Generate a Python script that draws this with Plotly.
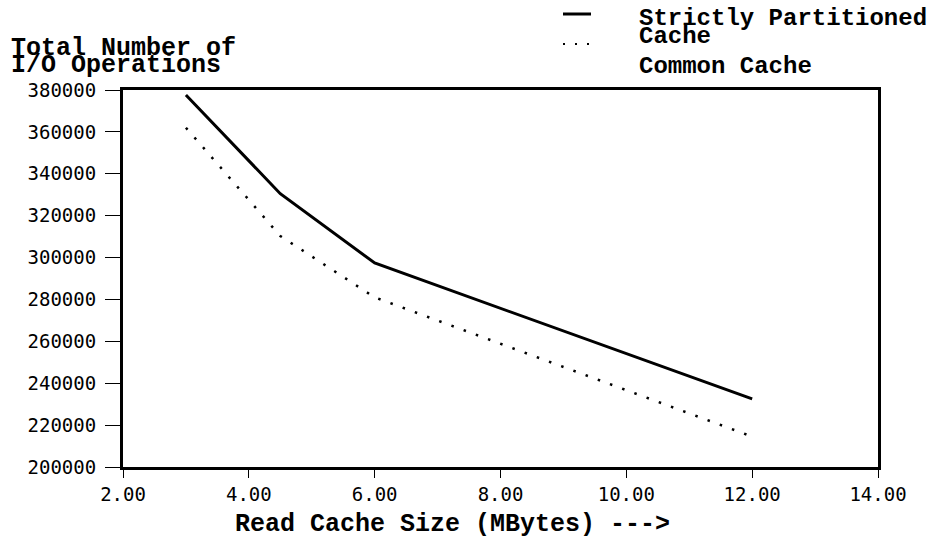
import plotly.graph_objects as go

# Read cache size (MBytes) and total I/O operations for each cache policy
cache_size_partitioned = [3.0, 4.5, 6.0, 12.0]
io_partitioned = [377600, 330500, 297400, 232500]

cache_size_common = [3.0, 4.5, 6.0, 12.0]
io_common = [362000, 310300, 281000, 214500]

x_ticks = [2, 4, 6, 8, 10, 12, 14]
y_ticks = [200000, 220000, 240000, 260000, 280000, 300000, 320000, 340000, 360000, 380000]

legend_labels = ["Strictly Partitioned", "Cache", "Common Cache"]
y_title_lines = ["Total Number of", "I/O Operations"]
x_title = "Read Cache Size (MBytes) --->"

BOLD_MONO = "Courier New, Liberation Mono, monospace"
TICK_FONT = "DejaVu Sans Mono"
tick_font = dict(family=TICK_FONT, size=19, color="black")

fig = go.Figure()

fig.add_trace(go.Scatter(
    x=cache_size_partitioned, y=io_partitioned, mode="lines",
    line=dict(color="black", width=3), showlegend=False,
))
fig.add_trace(go.Scatter(
    x=cache_size_common, y=io_common, mode="lines",
    line=dict(color="black", width=2.5, dash="2.5px,10.5px"), showlegend=False,
))

axis_common = dict(
    showline=True, linecolor="black", linewidth=3, mirror=True,
    showgrid=False, zeroline=False,
    ticks="outside", tickcolor="black", tickwidth=1.3,
)

fig.update_xaxes(
    range=[2, 14], tickvals=x_ticks, tickformat=".2f",
    ticklen=8, ticklabelstandoff=0, tickfont=tick_font, **axis_common,
)
fig.update_yaxes(
    range=[200000, 380000], tickvals=y_ticks, tickformat="d",
    ticklen=15, ticklabelstandoff=5, tickfont=tick_font, **axis_common,
)

W, H = 943, 540
ML, MR, MT, MB = 123, 65, 90, 73
pw, ph = W - ML - MR, H - MT - MB


def px_to_paper(x, y):
    return (x - ML) / pw, 1 - (y - MT) / ph


annotations = [
    dict(text=y_title_lines[0], x=10, y=49, size=25, yanchor="middle"),
    dict(text=y_title_lines[1], x=10, y=66, size=25, yanchor="middle"),
    dict(text=x_title, x=234, y=540, size=25, yanchor="bottom"),
    dict(text=legend_labels[0], x=638, y=18, size=24, yanchor="middle"),
    dict(text=legend_labels[1], x=638, y=36, size=24, yanchor="middle"),
    dict(text=legend_labels[2], x=638, y=67, size=24, yanchor="middle"),
]

ann_objs = []
for a in annotations:
    px, py = px_to_paper(a["x"], a["y"])
    ann_objs.append(dict(
        text=a["text"], x=px, y=py, xref="paper", yref="paper",
        xanchor="left", yanchor=a["yanchor"], showarrow=False, borderpad=0,
        font=dict(family=BOLD_MONO, size=a["size"], color="black", weight="bold"),
    ))

# Legend line samples
x0, y0 = px_to_paper(563, 14)
x1, _ = px_to_paper(591, 14)
dx0, dy0 = px_to_paper(563, 44)
dx1, _ = px_to_paper(592, 44)
shapes = [
    dict(type="line", xref="paper", yref="paper", x0=x0, x1=x1, y0=y0, y1=y0,
         line=dict(color="black", width=3)),
    dict(type="line", xref="paper", yref="paper", x0=dx0, x1=dx1, y0=dy0, y1=dy0,
         line=dict(color="black", width=2, dash="2px,10px")),
]

fig.update_layout(
    width=W, height=H,
    margin=dict(l=ML, r=MR, t=MT, b=MB),
    paper_bgcolor="white", plot_bgcolor="white",
    annotations=ann_objs, shapes=shapes,
    showlegend=False,
)

fig.write_html("out.html")
